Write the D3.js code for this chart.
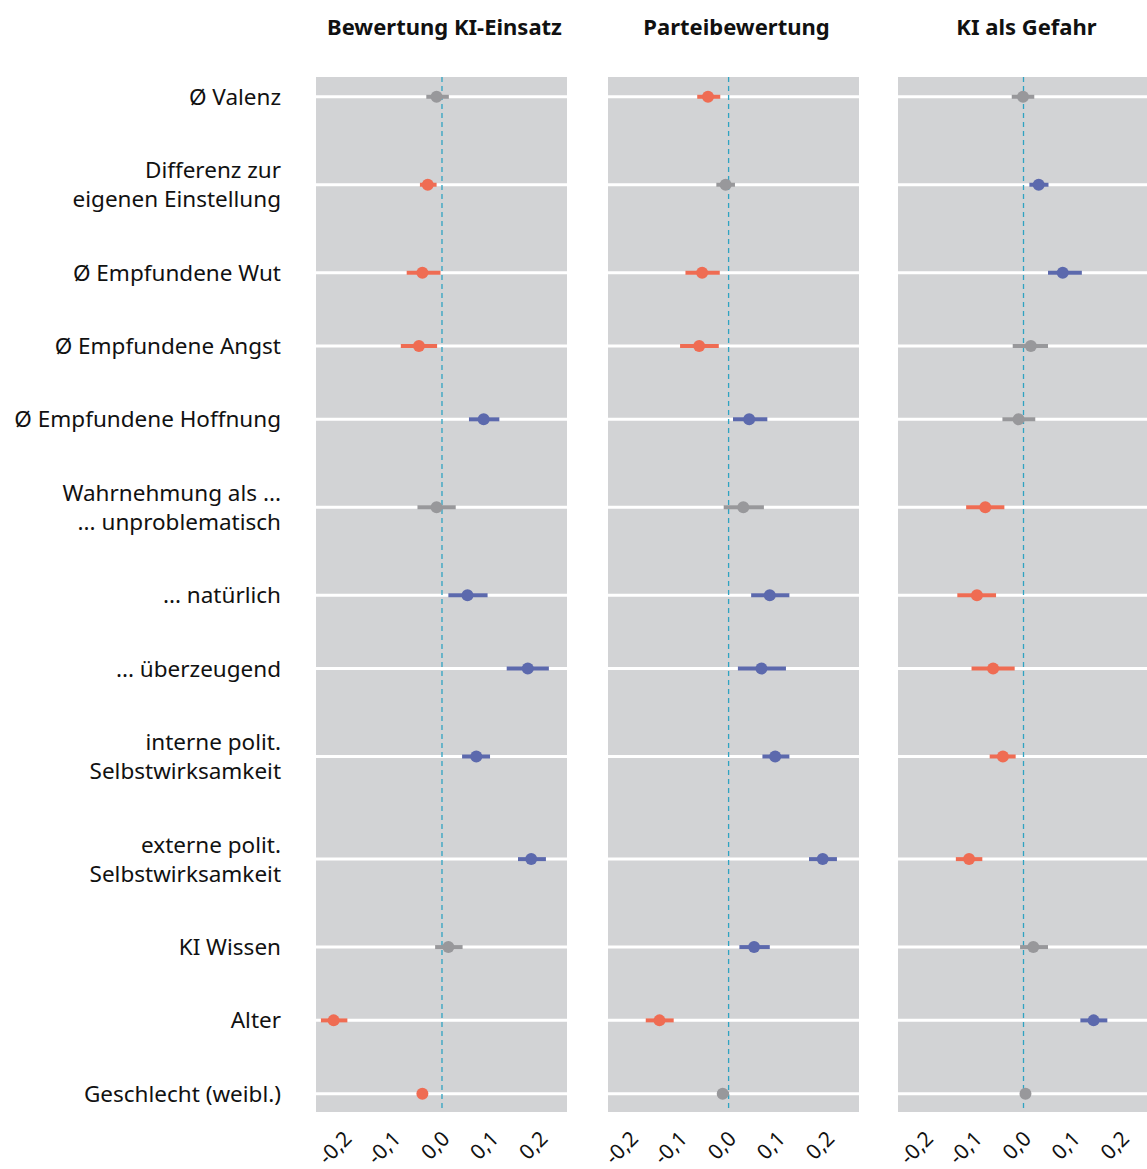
<!DOCTYPE html>
<html>
<head>
<meta charset="utf-8">
<script src="https://cdn.jsdelivr.net/npm/d3@7"></script>
<style>
  body { margin: 0; background: #ffffff; }
  text { font-family: "Noto Sans", "Open Sans", sans-serif; fill: #111111; }
</style>
</head>
<body>
<div id="canvas"></div>
<script>
"use strict"

/* Data */
let panels = ["Bewertung KI-Einsatz", "Parteibewertung", "KI als Gefahr"];

/* row labels, one entry per line */
let rowLabels = [
    ["Ø Valenz"],
    ["Differenz zur", "eigenen Einstellung"],
    ["Ø Empfundene Wut"],
    ["Ø Empfundene Angst"],
    ["Ø Empfundene Hoffnung"],
    ["Wahrnehmung als ...", "... unproblematisch"],
    ["... natürlich"],
    ["... überzeugend"],
    ["interne polit.", "Selbstwirksamkeit"],
    ["externe polit.", "Selbstwirksamkeit"],
    ["KI Wissen"],
    ["Alter"],
    ["Geschlecht (weibl.)"]
];

/* estimates and confidence bounds per panel (one value per row) */
let estKI = [-0.011, -0.029, -0.040, -0.047, 0.085, -0.011, 0.052, 0.175, 0.070, 0.182, 0.013, -0.221, -0.040];
let lowKI = [-0.032, -0.045, -0.072, -0.084, 0.055, -0.050, 0.013, 0.132, 0.041, 0.155, -0.014, -0.247, -0.046];
let highKI = [0.014, -0.011, -0.003, -0.010, 0.117, 0.028, 0.093, 0.218, 0.098, 0.212, 0.042, -0.193, -0.033];

let estPartei = [-0.042, -0.006, -0.054, -0.060, 0.042, 0.030, 0.084, 0.067, 0.095, 0.192, 0.052, -0.141, -0.012];
let lowPartei = [-0.064, -0.025, -0.088, -0.099, 0.009, -0.010, 0.046, 0.019, 0.069, 0.164, 0.022, -0.169, -0.022];
let highPartei = [-0.017, 0.013, -0.018, -0.020, 0.079, 0.072, 0.124, 0.117, 0.124, 0.221, 0.084, -0.112, 0.001];

let estGefahr = [-0.001, 0.031, 0.080, 0.015, -0.010, -0.078, -0.095, -0.062, -0.042, -0.111, 0.020, 0.143, 0.004];
let lowGefahr = [-0.024, 0.012, 0.050, -0.022, -0.043, -0.117, -0.135, -0.106, -0.069, -0.138, -0.007, 0.116, -0.004];
let highGefahr = [0.022, 0.051, 0.119, 0.050, 0.024, -0.039, -0.056, -0.018, -0.016, -0.084, 0.050, 0.171, 0.012];

let tickValues = [-0.2, -0.1, 0.0, 0.1, 0.2];

/* Layout */
let svgWidth = 1147;
let svgHeight = 1169;
let panelLeft = [316, 608, 898];
let panelWidth = 251;
let panelTop = 77;
let panelBottom = 1112;
let xDomains = [[-0.257, 0.255], [-0.246, 0.266], [-0.256, 0.256]];

let colorNeg = "#ef6c53";
let colorPos = "#5c69ad";
let colorNs = "#98989b";

let svg = d3.select("#canvas")
    .append("svg")
    .attr("width", svgWidth)
    .attr("height", svgHeight);

/* y position of each row: two-line labels get a taller row */
let rowUnits = rowLabels.map(function (lines) { return lines.length > 1 ? 1.4 : 1; });
let rowPos = [0];
for (let i = 1; i < rowUnits.length; i++) {
    rowPos.push(rowPos[i - 1] + (rowUnits[i - 1] + rowUnits[i]) / 2);
}
let yScale = d3.scaleLinear()
    .domain([-0.27, rowPos[rowPos.length - 1] + 0.25])
    .range([panelTop, panelBottom]);

/* row labels */
rowLabels.forEach(function (lines, i) {
    let t = svg.append("text")
        .attr("x", 281)
        .attr("y", yScale(rowPos[i]) - 1 - (lines.length - 1) * 14.5)
        .attr("text-anchor", "end")
        .attr("dominant-baseline", "central")
        .attr("font-size", 22.5);
    lines.forEach(function (line, j) {
        t.append("tspan")
            .attr("x", 281)
            .attr("dy", j == 0 ? 0 : 29)
            .text(line);
    });
});

let allEst = [estKI, estPartei, estGefahr];
let allLow = [lowKI, lowPartei, lowGefahr];
let allHigh = [highKI, highPartei, highGefahr];

panels.forEach(function (title, p) {
    let xScale = d3.scaleLinear()
        .domain(xDomains[p])
        .range([panelLeft[p], panelLeft[p] + panelWidth]);

    let g = svg.append("g");

    g.append("rect")
        .attr("x", panelLeft[p])
        .attr("y", panelTop)
        .attr("width", panelWidth)
        .attr("height", panelBottom - panelTop)
        .attr("fill", "#d2d3d5");

    /* white grid line per row */
    g.selectAll("line.grid")
        .data(rowPos)
        .join("line")
        .attr("x1", panelLeft[p])
        .attr("x2", panelLeft[p] + panelWidth)
        .attr("y1", function (d) { return yScale(d); })
        .attr("y2", function (d) { return yScale(d); })
        .attr("stroke", "#ffffff")
        .attr("stroke-width", 3);

    /* zero line */
    g.append("line")
        .attr("x1", xScale(0))
        .attr("x2", xScale(0))
        .attr("y1", panelTop)
        .attr("y2", panelBottom)
        .attr("stroke", "#2fa3c2")
        .attr("stroke-width", 1.3)
        .attr("stroke-dasharray", "5,4");

    /* colour: red if CI below zero, blue if above, grey otherwise */
    let rows = rowPos.map(function (pos, i) {
        let low = allLow[p][i];
        let high = allHigh[p][i];
        let col = colorNs;
        if (high < 0) col = colorNeg;
        if (low > 0) col = colorPos;
        return { y: pos, est: allEst[p][i], low: low, high: high, color: col };
    });

    g.selectAll("line.ci")
        .data(rows)
        .join("line")
        .attr("x1", function (d) { return xScale(d.low); })
        .attr("x2", function (d) { return xScale(d.high); })
        .attr("y1", function (d) { return yScale(d.y); })
        .attr("y2", function (d) { return yScale(d.y); })
        .attr("stroke", function (d) { return d.color; })
        .attr("stroke-width", 4);

    g.selectAll("circle")
        .data(rows)
        .join("circle")
        .attr("cx", function (d) { return xScale(d.est); })
        .attr("cy", function (d) { return yScale(d.y); })
        .attr("r", 6)
        .attr("fill", function (d) { return d.color; });

    /* panel title */
    svg.append("text")
        .attr("x", panelLeft[p] + panelWidth / 2 + 3)
        .attr("y", 26)
        .attr("text-anchor", "middle")
        .attr("dominant-baseline", "central")
        .attr("font-size", 22)
        .attr("font-weight", "bold")
        .text(title);

    /* rotated tick labels */
    let fmt = function (v) { return d3.format(".1f")(v).replace(".", ",").replace("−", "-"); };
    tickValues.forEach(function (v) {
        let tx = xScale(v) + 9;
        let ty = 1140;
        svg.append("text")
            .attr("transform", "translate(" + tx + "," + ty + ") rotate(-45)")
            .attr("text-anchor", "end")
            .attr("font-size", 21)
            .text(fmt(v));
    });
});
</script>
</body>
</html>
